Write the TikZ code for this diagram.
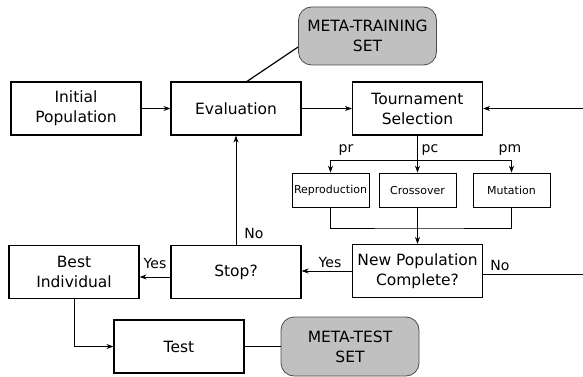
\documentclass[tikz,border=0pt]{standalone}
\usepackage{fontspec}
\setmainfont{DejaVu Sans}
\usetikzlibrary{arrows.meta, positioning, calc}
\definecolor{metagray}{HTML}{C0C0C0}
\tikzset{
  blk/.style={rectangle, draw, line width=1.2pt, minimum width=130pt,
              minimum height=53pt, align=center, inner sep=1pt,
              font=\fontsize{15.5}{20}\selectfont},
  op/.style={rectangle, draw, line width=0.7pt, minimum width=77pt,
             minimum height=34pt, align=center, inner sep=1pt,
             font=\fontsize{11}{13}\selectfont},
  meta/.style={rectangle, draw=black!70, line width=0.8pt, fill=metagray,
               rounded corners=13pt, minimum width=138pt, minimum height=58pt,
               align=center, font=\fontsize{15.5}{20}\selectfont},
  arr/.style={-{Stealth[length=7pt, width=5pt]}, line width=0.7pt},
  ln/.style={line width=0.7pt},
  lbl/.style={font=\fontsize{14}{16}\selectfont, inner sep=0pt},
}
\begin{document}
\begin{tikzpicture}[x=1pt, y=-1pt]
  \useasboundingbox (0,0) rectangle (583,377);
  % boxes
  \node[blk] (init) at (76,108.5) {Initial\\Population};
  \node[blk] (eval) at (236,108.5) {Evaluation};
  \node[meta] (mtrain) at (367.5,36) {META-TRAINING\\SET};
  \node[blk] (tour) at (417.5,108.5) {Tournament\\Selection};
  \node[op] (repro) at (330.5,190) {Reproduction};
  \node[op] (cross) at (417.5,190) {Crossover};
  \node[op] (mut) at (511.5,190) {Mutation};
  \node[blk] (newpop) at (417.5,271) {New Population\\Complete?};
  \node[blk] (stop) at (236,272) {Stop?};
  \node[blk] (best) at (74,272) {Best\\Individual};
  \node[blk] (test) at (179,346.5) {Test};
  \node[meta, minimum height=59pt] (mtest) at (350,346.5) {META-TEST\\SET};
  \coordinate (inR) at (583,108.5);
  \coordinate (outR) at (583,274);
  \coordinate (split) at (417.5,160);
  \coordinate (merge) at (417.5,228);
  % connectors
  \draw[arr] (init) -- (eval);
  \draw[arr] (eval) -- (tour);
  \draw[arr] (inR) -- (tour);
  \draw[line width=1.2pt] ([xshift=11pt]eval.north) -- ([yshift=-11pt]mtrain.west);
  \draw[arr] (tour) -- (cross);
  \draw[arr] (split) -| (repro);
  \draw[arr] (split) -| (mut);
  \draw[ln] (repro) |- (merge) -| (mut);
  \draw[arr] (cross) -- (newpop);
  \draw[arr] (newpop.west) -- (stop.east |- newpop.west);
  \draw[ln] (newpop.east |- outR) -- (outR);
  \draw[arr] ([yshift=-5pt]stop.west) -- ([yshift=-5pt]best.east);
  \draw[arr] (stop) -- (eval);
  \draw[arr] (best) |- (test);
  \draw[line width=1.5pt] (test) -- (mtest);
  % labels
  \node[lbl] (ypop) at (330,262) {Yes};
  \node[lbl] (npop) at (500,265) {No};
  \node[lbl] (ystop) at (155,263) {Yes};
  \node[lbl] (nstop) at (254,233) {No};
  \node[lbl] (pr) at (346,150) {pr};
  \node[lbl] (pc) at (430,150) {pc};
  \node[lbl] (pm) at (510,150) {pm};
\end{tikzpicture}
\end{document}
